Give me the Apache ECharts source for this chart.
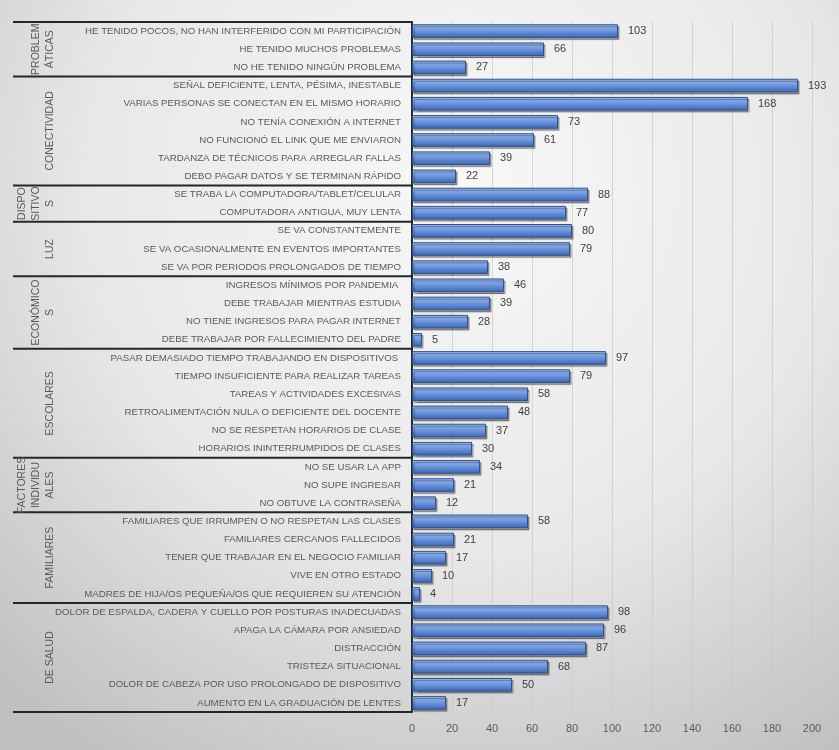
<!DOCTYPE html>
<html><head><meta charset="utf-8">
<script src="https://cdn.jsdelivr.net/npm/echarts@6/dist/echarts.min.js"></script>
<style>html,body{margin:0;padding:0;}#c{width:839px;height:750px;}</style>
</head><body><div id="c"></div>
<script>
const categories = [
 'HE TENIDO POCOS, NO HAN INTERFERIDO CON MI PARTICIPACIÓN','HE TENIDO MUCHOS PROBLEMAS','NO HE TENIDO NINGÚN PROBLEMA',
 'SEÑAL DEFICIENTE, LENTA, PÉSIMA, INESTABLE','VARIAS PERSONAS SE CONECTAN EN EL MISMO HORARIO','NO TENÍA CONEXIÓN A INTERNET','NO FUNCIONÓ EL LINK QUE ME ENVIARON','TARDANZA DE TÉCNICOS PARA ARREGLAR FALLAS','DEBO PAGAR DATOS Y SE TERMINAN RÁPIDO',
 'SE TRABA LA COMPUTADORA/TABLET/CELULAR','COMPUTADORA ANTIGUA, MUY LENTA',
 'SE VA CONSTANTEMENTE','SE VA OCASIONALMENTE EN EVENTOS IMPORTANTES','SE VA POR PERIODOS PROLONGADOS DE TIEMPO',
 'INGRESOS MÍNIMOS POR PANDEMIA ','DEBE TRABAJAR MIENTRAS ESTUDIA','NO TIENE INGRESOS PARA PAGAR INTERNET','DEBE TRABAJAR POR FALLECIMIENTO DEL PADRE',
 'PASAR DEMASIADO TIEMPO TRABAJANDO EN DISPOSITIVOS ','TIEMPO INSUFICIENTE PARA REALIZAR TAREAS','TAREAS Y ACTIVIDADES EXCESIVAS','RETROALIMENTACIÓN NULA O DEFICIENTE DEL DOCENTE','NO SE RESPETAN HORARIOS DE CLASE','HORARIOS ININTERRUMPIDOS DE CLASES',
 'NO SE USAR LA APP','NO SUPE INGRESAR','NO OBTUVE LA CONTRASEÑA',
 'FAMILIARES QUE IRRUMPEN O NO RESPETAN LAS CLASES','FAMILIARES CERCANOS FALLECIDOS','TENER QUE TRABAJAR EN EL NEGOCIO FAMILIAR','VIVE EN OTRO ESTADO','MADRES DE HIJA/OS PEQUEÑA/OS QUE REQUIEREN SU ATENCIÓN',
 'DOLOR DE ESPALDA, CADERA Y CUELLO POR POSTURAS INADECUADAS','APAGA LA CÁMARA POR ANSIEDAD','DISTRACCIÓN','TRISTEZA SITUACIONAL','DOLOR DE CABEZA POR USO PROLONGADO DE DISPOSITIVO','AUMENTO EN LA GRADUACIÓN DE LENTES'
];
const values = [103,66,27, 193,168,73,61,39,22, 88,77, 80,79,38, 46,39,28,5, 97,79,58,48,37,30, 34,21,12, 58,21,17,10,4, 98,96,87,68,50,17];
const groupNames = ['PROBLEM\nÁTICAS','CONECTIVIDAD','DISPO\nSITIVO\nS','LUZ','ECONÓMICO\nS','ESCOLARES','FACTORES\nINDIVIDU\nALES','FAMILIARES','DE SALUD'];
const groupSizes = [3,6,2,3,4,6,3,5,6];
const xTicks = {min:0, max:200, interval:20};

const FONT = "'Liberation Sans Narrow', 'Liberation Sans', sans-serif";
const chart = echarts.init(document.getElementById('c'));
chart.setOption({
  backgroundColor: {type:'radial', x:0.55, y:0.25, r:0.9, colorStops:[{offset:0,color:'#f8f8f8'},{offset:0.55,color:'#e8e8e8'},{offset:1,color:'#c0c0c0'}]},
  animation:false,
  grid:{left:412, right:27, top:22, bottom:38, containLabel:false},
  xAxis:{type:'value', min:xTicks.min, max:xTicks.max, interval:xTicks.interval,
    axisLine:{show:false}, axisTick:{show:false},
    axisLabel:{color:'#595959', fontSize:11, fontFamily:FONT, margin:11},
    splitLine:{show:true, lineStyle:{color:'rgba(200,200,200,0.7)', width:1}}},
  yAxis:{type:'category', inverse:true, data:categories,
    axisLine:{show:true, lineStyle:{color:'#262626', width:2}}, axisTick:{show:false},
    axisLabel:{color:'#595959', fontSize:9.7, fontFamily:FONT, margin:11}},
  series:[{type:'bar', data:values, barCategoryGap:'25%',
    itemStyle:{color:{type:'linear',x:0,y:0,x2:0,y2:1,colorStops:[{offset:0,color:'#9dbcf0'},{offset:0.45,color:'#7099e0'},{offset:1,color:'#3a65b5'}]},
      borderColor:'#2f528f', borderWidth:1, shadowColor:'rgba(0,0,0,0.35)', shadowOffsetX:1.5, shadowOffsetY:2, shadowBlur:1},
    label:{show:true, position:'right', distance:10, color:'#404040', fontSize:11, fontFamily:FONT}}]
});

const p = i => chart.convertToPixel({yAxisIndex:0}, i);
const bw = p(1) - p(0);
const xL = 13, xR = 412;
const g = [];
let start = 0;
const edge = i => p(i) - bw/2;
g.push({type:'line', shape:{x1:xL, y1:edge(0), x2:xR, y2:edge(0)}, style:{stroke:'#262626', lineWidth:2}});
groupSizes.forEach((n, k) => {
  const yTop = edge(start), yBot = edge(start + n);
  g.push({type:'line', shape:{x1:xL, y1:yBot, x2:xR, y2:yBot}, style:{stroke:'#262626', lineWidth:2}});
  g.push({type:'text', x:57, y:(yTop+yBot)/2, rotation:Math.PI/2,
    style:{text:groupNames[k], fill:'#595959', font:'10.5px ' + FONT, align:'center', verticalAlign:'bottom', lineHeight:14}});
  start += n;
});
chart.setOption({graphic:g});
</script></body></html>
